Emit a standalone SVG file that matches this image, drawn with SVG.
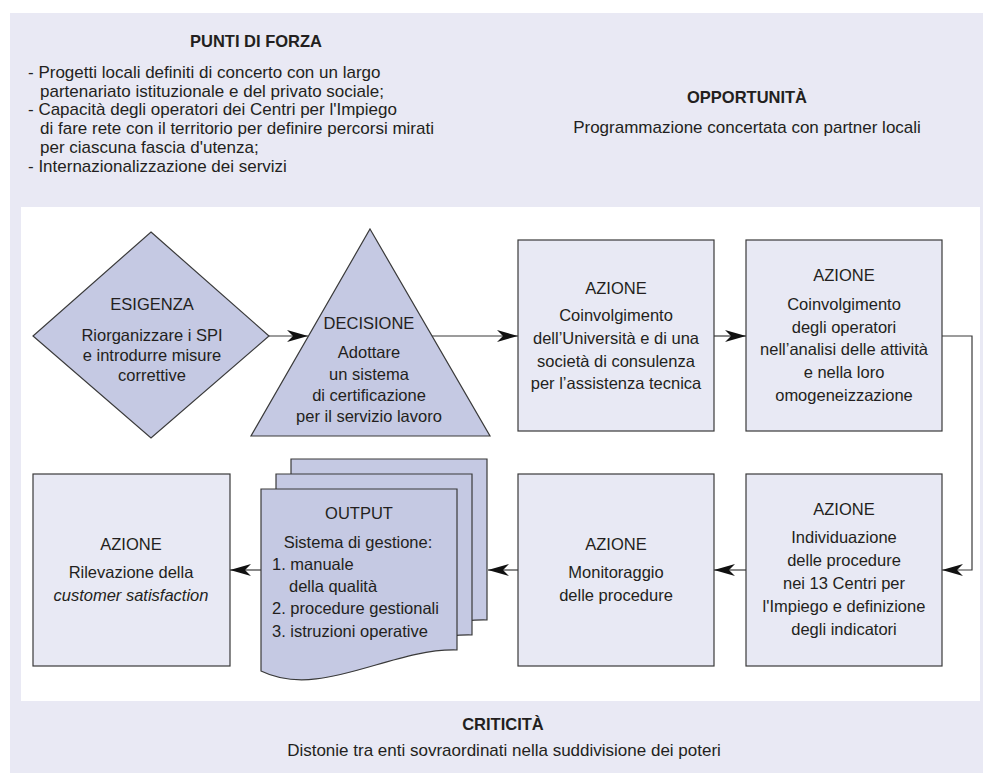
<svg xmlns="http://www.w3.org/2000/svg" width="983" height="773" viewBox="0 0 983 773">
<style>
.t{font-family:"Liberation Sans",Arial,sans-serif;font-size:16.5px;fill:#231f20;text-anchor:middle}
.p{font-size:17px}
.l{text-anchor:start}
.b{font-weight:bold}
.box{fill:#e8e9f4;stroke:#3a3a3a;stroke-width:1.2}
.dark{fill:#c5c9e3;stroke:#3a3a3a;stroke-width:1.2}
.conn{fill:none;stroke:#3a3a3a;stroke-width:1.2;marker-end:url(#arr)}
</style>
<defs>
<marker id="arr" markerUnits="userSpaceOnUse" markerWidth="21" markerHeight="13" refX="21" refY="6.5" orient="auto">
<path d="M0,0.5 L21,6.5 L0,12.5 L6,6.5 Z" fill="#111"/>
</marker>
<path id="doc" d="M261,489 H457 V650 C390,648 320,700 261,671 Z"/>
</defs>
<rect x="10" y="13" width="973" height="760" fill="#e9e9f4"/>
<rect x="21" y="207" width="959" height="494" fill="#ffffff"/>

<g id="punti-di-forza">
<text class="t b" x="256" y="47">PUNTI DI FORZA</text>
<text class="t p l" x="28" y="78">- Progetti locali definiti di concerto con un largo</text>
<text class="t p l" x="40" y="97">partenariato istituzionale e del privato sociale;</text>
<text class="t p l" x="28" y="115">- Capacità degli operatori dei Centri per l'Impiego</text>
<text class="t p l" x="40" y="134">di fare rete con il territorio per definire percorsi mirati</text>
<text class="t p l" x="40" y="153">per ciascuna fascia d'utenza;</text>
<text class="t p l" x="28" y="172">- Internazionalizzazione dei servizi</text>
</g>
<g id="opportunita">
<text class="t b" x="747" y="103">OPPORTUNITÀ</text>
<text class="t p" x="747" y="133">Programmazione concertata con partner locali</text>
</g>
<g id="criticita">
<text class="t b" x="503" y="730">CRITICITÀ</text>
<text class="t p" x="504" y="756">Distonie tra enti sovraordinati nella suddivisione dei poteri</text>
</g>

<g id="connectors">
<path class="conn" d="M269,336 H308"/>
<path class="conn" d="M432,336 H518"/>
<path class="conn" d="M714,336 H746"/>
<path class="conn" d="M942,336 H972 V570 H942"/>
<path class="conn" d="M746,570 H714"/>
<path class="conn" d="M518,570 H488"/>
<path class="conn" d="M261,570 H230"/>
</g>

<g id="esigenza">
<polygon class="dark" points="151,232 269,336 151,438 33,336"/>
<text class="t" x="152" y="310">ESIGENZA</text>
<text class="t" x="152" y="341">Riorganizzare i SPI</text>
<text class="t" x="152" y="361">e introdurre misure</text>
<text class="t" x="152" y="381">correttive</text>
</g>
<g id="decisione">
<polygon class="dark" points="370,229 490,436 251,436"/>
<text class="t" x="369" y="329">DECISIONE</text>
<text class="t" x="369" y="358">Adottare</text>
<text class="t" x="369" y="380">un sistema</text>
<text class="t" x="369" y="401">di certificazione</text>
<text class="t" x="369" y="422">per il servizio lavoro</text>
</g>
<g id="azione-universita">
<rect class="box" x="518" y="240" width="196" height="191"/>
<text class="t" x="616" y="294">AZIONE</text>
<text class="t" x="616" y="321">Coinvolgimento</text>
<text class="t" x="616" y="344">dell’Università e di una</text>
<text class="t" x="616" y="367">società di consulenza</text>
<text class="t" x="616" y="389">per l’assistenza tecnica</text>
</g>
<g id="azione-operatori">
<rect class="box" x="746" y="240" width="196" height="191"/>
<text class="t" x="844" y="281">AZIONE</text>
<text class="t" x="844" y="310">Coinvolgimento</text>
<text class="t" x="844" y="333">degli operatori</text>
<text class="t" x="844" y="355">nell’analisi delle attività</text>
<text class="t" x="844" y="378">e nella loro</text>
<text class="t" x="844" y="401">omogeneizzazione</text>
</g>
<g id="azione-procedure">
<rect class="box" x="746" y="474" width="196" height="192"/>
<text class="t" x="844" y="515">AZIONE</text>
<text class="t" x="844" y="543">Individuazione</text>
<text class="t" x="844" y="566">delle procedure</text>
<text class="t" x="844" y="589">nei 13 Centri per</text>
<text class="t" x="844" y="612">l'Impiego e definizione</text>
<text class="t" x="844" y="635">degli indicatori</text>
</g>
<g id="azione-monitoraggio">
<rect class="box" x="518" y="474" width="196" height="192"/>
<text class="t" x="616" y="550">AZIONE</text>
<text class="t" x="616" y="578">Monitoraggio</text>
<text class="t" x="616" y="601">delle procedure</text>
</g>
<g id="output">
<use href="#doc" class="dark" transform="translate(30,-30)"/>
<use href="#doc" class="dark" transform="translate(15,-15)"/>
<use href="#doc" class="dark"/>
<text class="t" x="359" y="519">OUTPUT</text>
<text class="t" x="358" y="548">Sistema di gestione:</text>
<text class="t l" x="272" y="570">1. manuale</text>
<text class="t l" x="289" y="592">della qualità</text>
<text class="t l" x="272" y="614">2. procedure gestionali</text>
<text class="t l" x="272" y="637">3. istruzioni operative</text>
</g>
<g id="azione-customer">
<rect class="box" x="33" y="474" width="197" height="192"/>
<text class="t" x="131" y="550">AZIONE</text>
<text class="t" x="131" y="578">Rilevazione della</text>
<text class="t" x="131" y="601" font-style="italic">customer satisfaction</text>
</g>
</svg>
